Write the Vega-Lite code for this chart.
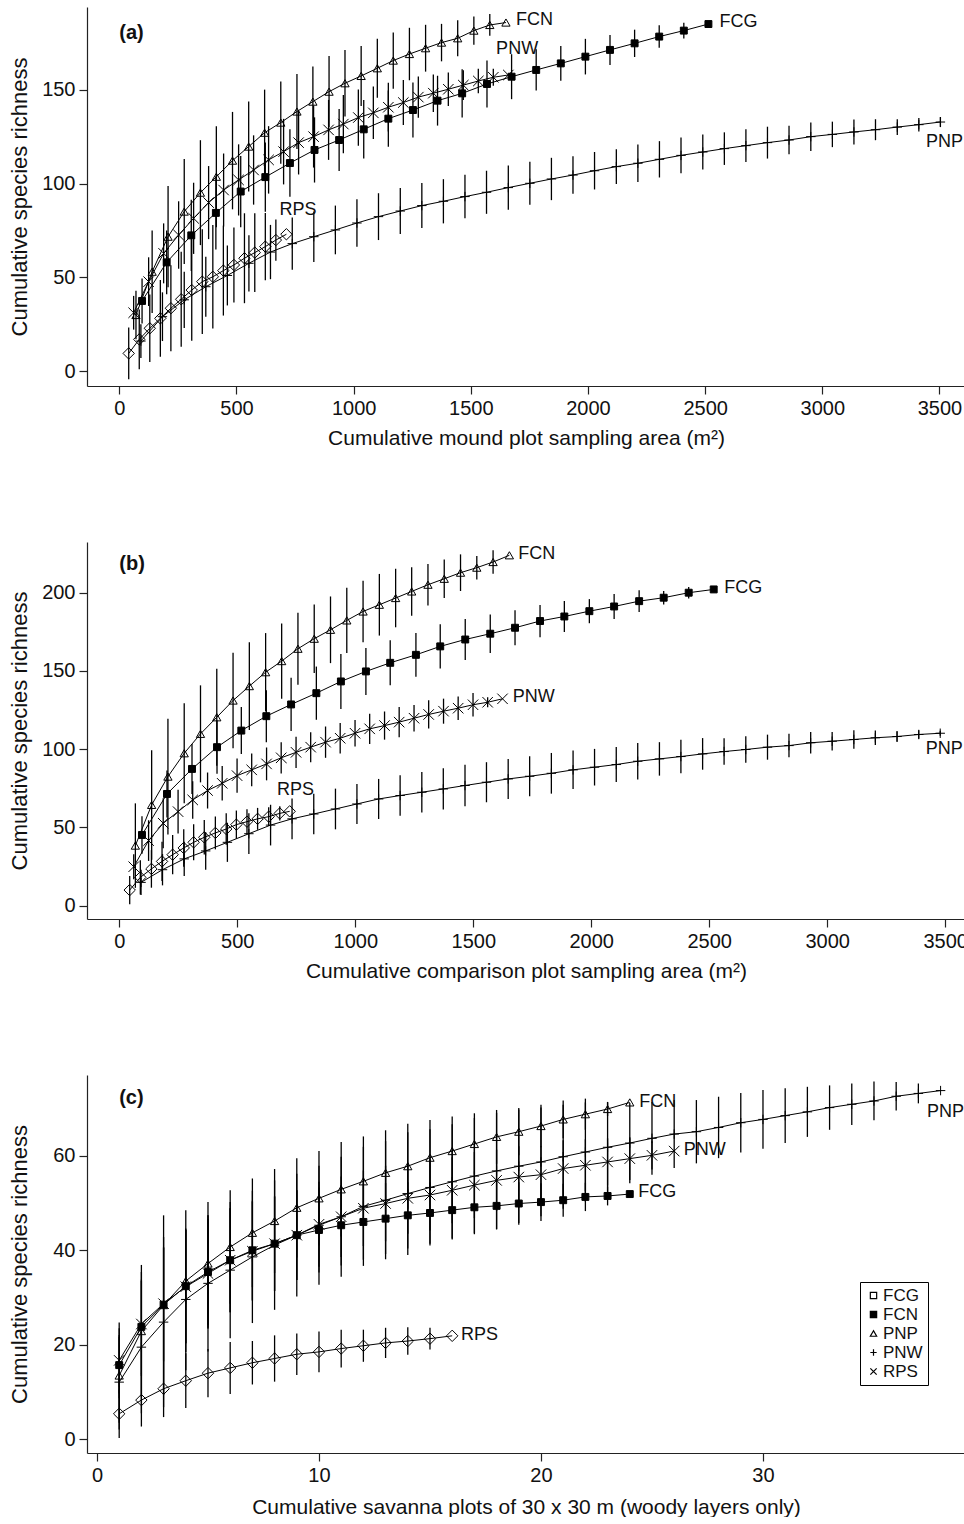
{
"$schema":"https://vega.github.io/schema/vega-lite/v6.json",
"padding":{"left":8,"top":7,"right":0,"bottom":0},
"config":{"font":"Liberation Sans","view":{"stroke":null},
"axis":{"grid":false,"domainColor":"#222","tickColor":"#222","labelColor":"#111","titleColor":"#111","labelFontSize":20,"titleFontSize":21,"titleFontWeight":"normal","tickSize":8,"labelPadding":4,"domainWidth":1.2,"tickWidth":1.2,"labelFont":"Liberation Sans","titleFont":"Liberation Sans","format":"d"},
"axisY":{"minExtent":46,"maxExtent":46,"titlePadding":10,"titleFontSize":22},
"axisX":{"titlePadding":9},
"text":{"font":"Liberation Sans","color":"#111"}},
"spacing":94,
"datasets":{
"a":[
{"s":"FCG","x":97,"y":37.4,"e":12},{"s":"FCG","x":202,"y":58,"e":17},{"s":"FCG","x":307,"y":72.4,"e":19},{"s":"FCG","x":412,"y":84.4,"e":19.5},{"s":"FCG","x":518,"y":95.8,"e":19},{"s":"FCG","x":623,"y":103.5,"e":18.5},{"s":"FCG","x":728,"y":111,"e":18},{"s":"FCG","x":833,"y":118,"e":17.4},{"s":"FCG","x":938,"y":123.3,"e":16.5},{"s":"FCG","x":1043,"y":129,"e":15.6},{"s":"FCG","x":1148,"y":134.7,"e":15},{"s":"FCG","x":1253,"y":139.3,"e":14.7},{"s":"FCG","x":1358,"y":144.3,"e":13.3},{"s":"FCG","x":1463,"y":148.2,"e":12.9},{"s":"FCG","x":1569,"y":153.2,"e":12.5},{"s":"FCG","x":1674,"y":157.1,"e":12},{"s":"FCG","x":1779,"y":160.7,"e":11},{"s":"FCG","x":1884,"y":164.2,"e":9.3},{"s":"FCG","x":1989,"y":167.8,"e":9.5},{"s":"FCG","x":2094,"y":171.4,"e":8},{"s":"FCG","x":2199,"y":174.9,"e":7.3},{"s":"FCG","x":2304,"y":178.5,"e":6},{"s":"FCG","x":2409,"y":181.7,"e":4.2},{"s":"FCG","x":2514,"y":185.2,"e":0},
{"s":"FCN","x":71,"y":29.9,"e":13},{"s":"FCN","x":140,"y":53,"e":22},{"s":"FCN","x":208,"y":71.7,"e":27},{"s":"FCN","x":277,"y":85.1,"e":28},{"s":"FCN","x":346,"y":95.2,"e":28},{"s":"FCN","x":414,"y":103.7,"e":27},{"s":"FCN","x":483,"y":112.3,"e":26},{"s":"FCN","x":552,"y":119.8,"e":24},{"s":"FCN","x":620,"y":127.2,"e":23},{"s":"FCN","x":689,"y":132.6,"e":22},{"s":"FCN","x":758,"y":138.5,"e":20},{"s":"FCN","x":826,"y":143.8,"e":18.7},{"s":"FCN","x":895,"y":149.1,"e":19},{"s":"FCN","x":963,"y":153.6,"e":17.8},{"s":"FCN","x":1032,"y":157.5,"e":16},{"s":"FCN","x":1101,"y":161.6,"e":15.7},{"s":"FCN","x":1169,"y":165.7,"e":15},{"s":"FCN","x":1238,"y":169.2,"e":14},{"s":"FCN","x":1307,"y":172.3,"e":12.5},{"s":"FCN","x":1375,"y":175.3,"e":10},{"s":"FCN","x":1444,"y":177.6,"e":9.6},{"s":"FCN","x":1513,"y":181.7,"e":7.5},{"s":"FCN","x":1581,"y":184.7,"e":5.8},{"s":"FCN","x":1650,"y":186,"e":0},
{"s":"PNW","x":61,"y":31.1,"e":9},{"s":"PNW","x":125,"y":47.7,"e":13},{"s":"PNW","x":189,"y":62.8,"e":16},{"s":"PNW","x":253,"y":72.6,"e":18},{"s":"PNW","x":317,"y":81.5,"e":19},{"s":"PNW","x":381,"y":89.9,"e":19.5},{"s":"PNW","x":445,"y":96.6,"e":19.5},{"s":"PNW","x":509,"y":102,"e":19},{"s":"PNW","x":573,"y":107.3,"e":18.5},{"s":"PNW","x":637,"y":112.7,"e":18},{"s":"PNW","x":701,"y":117.1,"e":17.5},{"s":"PNW","x":765,"y":121.9,"e":17},{"s":"PNW","x":829,"y":125.1,"e":16.5},{"s":"PNW","x":893,"y":128.7,"e":16},{"s":"PNW","x":956,"y":131.8,"e":15.5},{"s":"PNW","x":1020,"y":135.3,"e":15},{"s":"PNW","x":1084,"y":137.8,"e":14},{"s":"PNW","x":1148,"y":140.8,"e":13},{"s":"PNW","x":1212,"y":143.3,"e":12},{"s":"PNW","x":1276,"y":146.2,"e":11},{"s":"PNW","x":1340,"y":148.3,"e":10},{"s":"PNW","x":1404,"y":150.4,"e":9},{"s":"PNW","x":1468,"y":152.6,"e":8},{"s":"PNW","x":1532,"y":154.8,"e":6.5},{"s":"PNW","x":1596,"y":156.8,"e":4.5},{"s":"PNW","x":1660,"y":158,"e":0},
{"s":"RPS","x":40,"y":9.4,"e":13.8},{"s":"RPS","x":85,"y":16.9,"e":16},{"s":"RPS","x":130,"y":22.8,"e":18},{"s":"RPS","x":175,"y":28.1,"e":20.5},{"s":"RPS","x":220,"y":33.5,"e":23},{"s":"RPS","x":264,"y":38.3,"e":25.4},{"s":"RPS","x":309,"y":43.2,"e":27},{"s":"RPS","x":354,"y":47.7,"e":28},{"s":"RPS","x":399,"y":50.3,"e":27.6},{"s":"RPS","x":444,"y":53.6,"e":24},{"s":"RPS","x":489,"y":56.6,"e":20},{"s":"RPS","x":534,"y":60.2,"e":24},{"s":"RPS","x":578,"y":63.2,"e":21},{"s":"RPS","x":623,"y":66.4,"e":18},{"s":"RPS","x":668,"y":69.9,"e":11},{"s":"RPS","x":713,"y":73,"e":0},
{"s":"PNP","x":92,"y":16,"e":9},{"s":"PNP","x":184,"y":29,"e":13},{"s":"PNP","x":277,"y":38,"e":15},{"s":"PNP","x":369,"y":45,"e":16},{"s":"PNP","x":461,"y":51,"e":16},{"s":"PNP","x":553,"y":57.5,"e":15},{"s":"PNP","x":645,"y":63.5,"e":14.5},{"s":"PNP","x":738,"y":68,"e":14},{"s":"PNP","x":830,"y":71.7,"e":13.5},{"s":"PNP","x":922,"y":75.3,"e":13},{"s":"PNP","x":1014,"y":79,"e":12.7},{"s":"PNP","x":1106,"y":82.4,"e":12.5},{"s":"PNP","x":1199,"y":85.4,"e":12.3},{"s":"PNP","x":1291,"y":88.3,"e":12},{"s":"PNP","x":1383,"y":90.6,"e":11.8},{"s":"PNP","x":1475,"y":93.1,"e":11.6},{"s":"PNP","x":1567,"y":95.4,"e":11.5},{"s":"PNP","x":1660,"y":97.9,"e":11.8},{"s":"PNP","x":1752,"y":100.2,"e":11.5},{"s":"PNP","x":1844,"y":102.5,"e":11.3},{"s":"PNP","x":1936,"y":104.6,"e":10},{"s":"PNP","x":2028,"y":106.9,"e":10},{"s":"PNP","x":2121,"y":109.1,"e":9.3},{"s":"PNP","x":2213,"y":110.9,"e":10},{"s":"PNP","x":2305,"y":113,"e":9.7},{"s":"PNP","x":2397,"y":115.1,"e":9.5},{"s":"PNP","x":2490,"y":116.9,"e":9.4},{"s":"PNP","x":2582,"y":118.7,"e":8.7},{"s":"PNP","x":2674,"y":120.3,"e":8.7},{"s":"PNP","x":2766,"y":121.9,"e":8.5},{"s":"PNP","x":2858,"y":123.3,"e":7.6},{"s":"PNP","x":2951,"y":125.1,"e":7.6},{"s":"PNP","x":3043,"y":126.3,"e":6.8},{"s":"PNP","x":3135,"y":127.6,"e":6.7},{"s":"PNP","x":3227,"y":128.8,"e":5.6},{"s":"PNP","x":3320,"y":130.2,"e":4.2},{"s":"PNP","x":3412,"y":131.5,"e":3.6},{"s":"PNP","x":3504,"y":132.9,"e":2.7}
],
"b":[
{"s":"FCG","x":96,"y":45.2,"e":12},{"s":"FCG","x":202,"y":71.4,"e":15},{"s":"FCG","x":308,"y":87.4,"e":16},{"s":"FCG","x":414,"y":101.3,"e":17},{"s":"FCG","x":517,"y":111.9,"e":15},{"s":"FCG","x":623,"y":121.1,"e":16.6},{"s":"FCG","x":728,"y":128.6,"e":17},{"s":"FCG","x":835,"y":135.8,"e":17},{"s":"FCG","x":939,"y":143.3,"e":17.6},{"s":"FCG","x":1045,"y":149.7,"e":15},{"s":"FCG","x":1148,"y":155.2,"e":14.4},{"s":"FCG","x":1257,"y":160.3,"e":14},{"s":"FCG","x":1360,"y":165.7,"e":14.2},{"s":"FCG","x":1466,"y":170.1,"e":13.1},{"s":"FCG","x":1572,"y":173.8,"e":12.3},{"s":"FCG","x":1677,"y":177.6,"e":11.2},{"s":"FCG","x":1783,"y":181.9,"e":10.3},{"s":"FCG","x":1886,"y":184.8,"e":9.9},{"s":"FCG","x":1992,"y":188.2,"e":7.7},{"s":"FCG","x":2097,"y":191.2,"e":8},{"s":"FCG","x":2203,"y":194.6,"e":6.9},{"s":"FCG","x":2307,"y":196.8,"e":4.3},{"s":"FCG","x":2413,"y":200,"e":3.7},{"s":"FCG","x":2519,"y":202.1,"e":0},
{"s":"FCN","x":68,"y":38.4,"e":27},{"s":"FCN","x":137,"y":64.4,"e":35},{"s":"FCN","x":206,"y":82.5,"e":37},{"s":"FCN","x":275,"y":97.4,"e":32},{"s":"FCN","x":344,"y":109.8,"e":31},{"s":"FCN","x":413,"y":120.4,"e":31},{"s":"FCN","x":482,"y":131.1,"e":30.5},{"s":"FCN","x":551,"y":140.3,"e":28},{"s":"FCN","x":620,"y":149.2,"e":25},{"s":"FCN","x":688,"y":156.3,"e":24},{"s":"FCN","x":757,"y":164.2,"e":23},{"s":"FCN","x":826,"y":170.6,"e":21.9},{"s":"FCN","x":895,"y":176.3,"e":21.3},{"s":"FCN","x":964,"y":182.3,"e":20.8},{"s":"FCN","x":1033,"y":188,"e":19.7},{"s":"FCN","x":1102,"y":192.3,"e":19.7},{"s":"FCN","x":1171,"y":196.6,"e":18.7},{"s":"FCN","x":1239,"y":200.8,"e":15.5},{"s":"FCN","x":1308,"y":205.1,"e":13.3},{"s":"FCN","x":1377,"y":208.9,"e":12.3},{"s":"FCN","x":1446,"y":212.8,"e":11.7},{"s":"FCN","x":1515,"y":216,"e":7.5},{"s":"FCN","x":1584,"y":219.6,"e":7.5},{"s":"FCN","x":1653,"y":223.9,"e":0},
{"s":"PNW","x":61,"y":24.9,"e":8},{"s":"PNW","x":124,"y":41.6,"e":13},{"s":"PNW","x":186,"y":52.7,"e":16},{"s":"PNW","x":249,"y":60.1,"e":14},{"s":"PNW","x":311,"y":67.6,"e":12},{"s":"PNW","x":374,"y":73.6,"e":11.5},{"s":"PNW","x":436,"y":78.2,"e":11},{"s":"PNW","x":499,"y":83.1,"e":11},{"s":"PNW","x":561,"y":86.8,"e":10.5},{"s":"PNW","x":624,"y":90.6,"e":10.5},{"s":"PNW","x":686,"y":94.5,"e":10},{"s":"PNW","x":749,"y":98,"e":10},{"s":"PNW","x":811,"y":101.3,"e":9.6},{"s":"PNW","x":874,"y":104.5,"e":10},{"s":"PNW","x":936,"y":107,"e":9.8},{"s":"PNW","x":999,"y":110.2,"e":8.5},{"s":"PNW","x":1061,"y":113,"e":9.6},{"s":"PNW","x":1124,"y":115.1,"e":9},{"s":"PNW","x":1186,"y":117.3,"e":9.6},{"s":"PNW","x":1249,"y":119.8,"e":8.5},{"s":"PNW","x":1311,"y":122.2,"e":9},{"s":"PNW","x":1374,"y":124.3,"e":8},{"s":"PNW","x":1436,"y":126.2,"e":7.5},{"s":"PNW","x":1499,"y":128.4,"e":7.5},{"s":"PNW","x":1561,"y":130,"e":3.2},{"s":"PNW","x":1624,"y":132.2,"e":0},
{"s":"RPS","x":44,"y":10,"e":9},{"s":"RPS","x":89,"y":18.1,"e":11},{"s":"RPS","x":136,"y":23.5,"e":12},{"s":"RPS","x":181,"y":28.3,"e":12.5},{"s":"RPS","x":226,"y":32.6,"e":12.5},{"s":"RPS","x":273,"y":36.9,"e":12},{"s":"RPS","x":315,"y":40.5,"e":11.5},{"s":"RPS","x":360,"y":43.7,"e":11},{"s":"RPS","x":407,"y":46.5,"e":10.5},{"s":"RPS","x":453,"y":49,"e":10},{"s":"RPS","x":496,"y":51.8,"e":9},{"s":"RPS","x":541,"y":53.7,"e":8},{"s":"RPS","x":586,"y":55.5,"e":7},{"s":"RPS","x":633,"y":56.9,"e":6},{"s":"RPS","x":680,"y":59,"e":4.5},{"s":"RPS","x":722,"y":60.3,"e":0},
{"s":"PNP","x":92,"y":14.9,"e":8},{"s":"PNP","x":183,"y":23,"e":10},{"s":"PNP","x":275,"y":29.9,"e":11},{"s":"PNP","x":366,"y":35,"e":12},{"s":"PNP","x":458,"y":40.5,"e":12.5},{"s":"PNP","x":549,"y":46,"e":13},{"s":"PNP","x":641,"y":51.5,"e":13},{"s":"PNP","x":732,"y":55.5,"e":13},{"s":"PNP","x":824,"y":58.6,"e":13},{"s":"PNP","x":916,"y":61.8,"e":13},{"s":"PNP","x":1007,"y":65,"e":12.8},{"s":"PNP","x":1099,"y":68.2,"e":12.8},{"s":"PNP","x":1190,"y":70.4,"e":13},{"s":"PNP","x":1282,"y":72.5,"e":13},{"s":"PNP","x":1373,"y":74.6,"e":13.2},{"s":"PNP","x":1465,"y":76.8,"e":13.3},{"s":"PNP","x":1556,"y":78.9,"e":12.8},{"s":"PNP","x":1648,"y":81,"e":12.8},{"s":"PNP","x":1739,"y":82.7,"e":12.8},{"s":"PNP","x":1831,"y":84.6,"e":13},{"s":"PNP","x":1923,"y":86.8,"e":12.3},{"s":"PNP","x":2014,"y":88.5,"e":11.7},{"s":"PNP","x":2106,"y":90.2,"e":11.2},{"s":"PNP","x":2197,"y":92.3,"e":11.7},{"s":"PNP","x":2289,"y":93.8,"e":10.7},{"s":"PNP","x":2380,"y":95.3,"e":10.7},{"s":"PNP","x":2472,"y":97,"e":10.1},{"s":"PNP","x":2563,"y":98.5,"e":8.5},{"s":"PNP","x":2655,"y":99.8,"e":8.5},{"s":"PNP","x":2747,"y":101.3,"e":8},{"s":"PNP","x":2838,"y":102.3,"e":7.5},{"s":"PNP","x":2930,"y":104.1,"e":6.9},{"s":"PNP","x":3021,"y":105.1,"e":5.9},{"s":"PNP","x":3113,"y":106.2,"e":5.9},{"s":"PNP","x":3204,"y":107.3,"e":4.6},{"s":"PNP","x":3296,"y":108.1,"e":3.5},{"s":"PNP","x":3388,"y":109.4,"e":2.7},{"s":"PNP","x":3479,"y":110.2,"e":1.6}
],
"c":[
{"s":"FCG","x":1,"y":15.7,"e":6},{"s":"FCG","x":2,"y":23.8,"e":10},{"s":"FCG","x":3,"y":28.5,"e":12},{"s":"FCG","x":4,"y":32.4,"e":12},{"s":"FCG","x":5,"y":35.4,"e":12},{"s":"FCG","x":6,"y":37.9,"e":11},{"s":"FCG","x":7,"y":40,"e":10.5},{"s":"FCG","x":8,"y":41.4,"e":10},{"s":"FCG","x":9,"y":43.2,"e":9.5},{"s":"FCG","x":10,"y":44.3,"e":9},{"s":"FCG","x":11,"y":45.3,"e":8.5},{"s":"FCG","x":12,"y":46,"e":8},{"s":"FCG","x":13,"y":46.7,"e":7.5},{"s":"FCG","x":14,"y":47.4,"e":7},{"s":"FCG","x":15,"y":47.9,"e":6.5},{"s":"FCG","x":16,"y":48.5,"e":6},{"s":"FCG","x":17,"y":49.1,"e":5.5},{"s":"FCG","x":18,"y":49.4,"e":5},{"s":"FCG","x":19,"y":49.9,"e":4.5},{"s":"FCG","x":20,"y":50.2,"e":4},{"s":"FCG","x":21,"y":50.6,"e":3.5},{"s":"FCG","x":22,"y":51.3,"e":3},{"s":"FCG","x":23,"y":51.5,"e":2},{"s":"FCG","x":24,"y":51.9,"e":0},
{"s":"FCN","x":1,"y":13.5,"e":10},{"s":"FCN","x":2,"y":22.9,"e":14},{"s":"FCN","x":3,"y":28.4,"e":19},{"s":"FCN","x":4,"y":33.5,"e":15},{"s":"FCN","x":5,"y":37.2,"e":13},{"s":"FCN","x":6,"y":40.7,"e":12},{"s":"FCN","x":7,"y":43.7,"e":11.5},{"s":"FCN","x":8,"y":46.2,"e":11},{"s":"FCN","x":9,"y":49,"e":10.5},{"s":"FCN","x":10,"y":51,"e":10},{"s":"FCN","x":11,"y":52.9,"e":10},{"s":"FCN","x":12,"y":54.6,"e":9.5},{"s":"FCN","x":13,"y":56.4,"e":9},{"s":"FCN","x":14,"y":57.8,"e":9},{"s":"FCN","x":15,"y":59.6,"e":8},{"s":"FCN","x":16,"y":61,"e":7.3},{"s":"FCN","x":17,"y":62.5,"e":6.5},{"s":"FCN","x":18,"y":64,"e":5.7},{"s":"FCN","x":19,"y":65.1,"e":5},{"s":"FCN","x":20,"y":66.3,"e":4.5},{"s":"FCN","x":21,"y":67.7,"e":4},{"s":"FCN","x":22,"y":68.8,"e":3.3},{"s":"FCN","x":23,"y":69.9,"e":1.5},{"s":"FCN","x":24,"y":71.3,"e":0},
{"s":"PNW","x":1,"y":16.7,"e":8},{"s":"PNW","x":2,"y":24.4,"e":11},{"s":"PNW","x":3,"y":28.7,"e":12},{"s":"PNW","x":4,"y":32.3,"e":12},{"s":"PNW","x":5,"y":35.1,"e":11.5},{"s":"PNW","x":6,"y":37.9,"e":11},{"s":"PNW","x":7,"y":39.8,"e":10.5},{"s":"PNW","x":8,"y":41.4,"e":10},{"s":"PNW","x":9,"y":43.2,"e":9.5},{"s":"PNW","x":10,"y":45.5,"e":9},{"s":"PNW","x":11,"y":47.1,"e":8.5},{"s":"PNW","x":12,"y":48.9,"e":8},{"s":"PNW","x":13,"y":49.9,"e":8},{"s":"PNW","x":14,"y":51,"e":7.5},{"s":"PNW","x":15,"y":51.7,"e":7.5},{"s":"PNW","x":16,"y":52.7,"e":7},{"s":"PNW","x":17,"y":53.8,"e":7},{"s":"PNW","x":18,"y":54.8,"e":6.5},{"s":"PNW","x":19,"y":55.5,"e":6.5},{"s":"PNW","x":20,"y":56,"e":6},{"s":"PNW","x":21,"y":57.3,"e":6},{"s":"PNW","x":22,"y":58,"e":5.5},{"s":"PNW","x":23,"y":58.7,"e":5},{"s":"PNW","x":24,"y":59.4,"e":4.5},{"s":"PNW","x":25,"y":60.1,"e":3},{"s":"PNW","x":26,"y":61,"e":0},
{"s":"RPS","x":1,"y":5.4,"e":5.1},{"s":"RPS","x":2,"y":8.3,"e":5.6},{"s":"RPS","x":3,"y":10.7,"e":6},{"s":"RPS","x":4,"y":12.4,"e":5.8},{"s":"RPS","x":5,"y":14,"e":5.1},{"s":"RPS","x":6,"y":15.1,"e":5.5},{"s":"RPS","x":7,"y":16.2,"e":4.6},{"s":"RPS","x":8,"y":17.1,"e":4.9},{"s":"RPS","x":9,"y":18,"e":4.4},{"s":"RPS","x":10,"y":18.5,"e":4.3},{"s":"RPS","x":11,"y":19.2,"e":4},{"s":"RPS","x":12,"y":19.8,"e":3.4},{"s":"RPS","x":13,"y":20.4,"e":3.2},{"s":"RPS","x":14,"y":20.8,"e":2.9},{"s":"RPS","x":15,"y":21.3,"e":2.3},{"s":"RPS","x":16,"y":21.9,"e":0},
{"s":"PNP","x":1,"y":12.1,"e":10},{"s":"PNP","x":2,"y":19.5,"e":14},{"s":"PNP","x":3,"y":24.8,"e":18},{"s":"PNP","x":4,"y":29.6,"e":15},{"s":"PNP","x":5,"y":33,"e":14.4},{"s":"PNP","x":6,"y":35.8,"e":14.4},{"s":"PNP","x":7,"y":38.6,"e":14},{"s":"PNP","x":8,"y":41.1,"e":13.7},{"s":"PNP","x":9,"y":43.2,"e":13},{"s":"PNP","x":10,"y":45.3,"e":12.6},{"s":"PNP","x":11,"y":47.1,"e":12.7},{"s":"PNP","x":12,"y":49.3,"e":12.6},{"s":"PNP","x":13,"y":50.6,"e":12.5},{"s":"PNP","x":14,"y":52,"e":13},{"s":"PNP","x":15,"y":53.3,"e":12.3},{"s":"PNP","x":16,"y":54.5,"e":12.2},{"s":"PNP","x":17,"y":55.7,"e":12.3},{"s":"PNP","x":18,"y":56.8,"e":12.3},{"s":"PNP","x":19,"y":57.8,"e":12},{"s":"PNP","x":20,"y":58.7,"e":11.5},{"s":"PNP","x":21,"y":59.8,"e":11},{"s":"PNP","x":22,"y":60.8,"e":10.5},{"s":"PNP","x":23,"y":61.8,"e":9.5},{"s":"PNP","x":24,"y":62.7,"e":8.5},{"s":"PNP","x":25,"y":63.7,"e":7.7},{"s":"PNP","x":26,"y":64.6,"e":7.2},{"s":"PNP","x":27,"y":65.1,"e":6.7},{"s":"PNP","x":28,"y":66,"e":6.5},{"s":"PNP","x":29,"y":67,"e":6.3},{"s":"PNP","x":30,"y":67.7,"e":6.2},{"s":"PNP","x":31,"y":68.5,"e":5.8},{"s":"PNP","x":32,"y":69.3,"e":5.3},{"s":"PNP","x":33,"y":70.2,"e":4.7},{"s":"PNP","x":34,"y":70.9,"e":4.4},{"s":"PNP","x":35,"y":71.6,"e":4.1},{"s":"PNP","x":36,"y":72.6,"e":3},{"s":"PNP","x":37,"y":73.2,"e":2.1},{"s":"PNP","x":38,"y":73.8,"e":0}
],
"lab":[
{"p":"a","t":"FCN","x":1693,"y":187.4},{"p":"a","t":"PNW","x":1608,"y":171.9},{"p":"a","t":"FCG","x":2561,"y":186.1},{"p":"a","t":"PNP","x":3443,"y":122.4},{"p":"a","t":"RPS","x":683,"y":86},
{"p":"b","t":"FCN","x":1691,"y":224.5},{"p":"b","t":"FCG","x":2564,"y":203.2},{"p":"b","t":"PNW","x":1667,"y":133.2},{"p":"b","t":"PNP","x":3418,"y":100.2},{"p":"b","t":"RPS","x":668,"y":74},
{"p":"c","t":"FCN","x":24.43,"y":71.3},{"p":"c","t":"PNW","x":26.43,"y":61.2},{"p":"c","t":"FCG","x":24.38,"y":52.4},{"p":"c","t":"PNP","x":37.39,"y":69.3},{"p":"c","t":"RPS","x":16.4,"y":22}
],
"tag":[{"p":"a","t":"(a)","x":0,"y":180.5},{"p":"b","t":"(b)","x":0,"y":218.5},{"p":"c","t":"(c)","x":1,"y":72.3}]
},
"vconcat":[
{"width":878,"height":379,
"encoding":{
"x":{"field":"x","type":"quantitative","scale":{"domain":[-138,3609],"nice":false,"zero":false},"axis":{"values":[0,500,1000,1500,2000,2500,3000,3500],"title":"Cumulative mound plot sampling area (m²)"}},
"y":{"field":"y","type":"quantitative","scale":{"domain":[-8,194.3],"nice":false,"zero":false},"axis":{"values":[0,50,100,150],"title":"Cumulative species richness"}}},
"layer":[
{"data":{"name":"a"},"mark":{"type":"errorbar","color":"black","thickness":1.3,"ticks":false},"encoding":{"yError":{"field":"e"}}},
{"data":{"name":"a"},"mark":{"type":"line","color":"black","strokeWidth":1},"encoding":{"detail":{"field":"s"}}},
{"data":{"name":"a"},"mark":{"type":"point","filled":true,"stroke":"black","strokeWidth":1,"opacity":1},"encoding":{
"shape":{"field":"s","type":"nominal","scale":{"domain":["FCG","FCN","PNP","PNW","RPS"],"range":["square","triangle-up","M-1,0L1,0M0,-1L0,1","M-1,-1L1,1M-1,1L1,-1","diamond"]},"legend":null},
"size":{"field":"s","type":"ordinal","scale":{"domain":["FCG","FCN","PNP","PNW","RPS"],"range":[48,130,70,55,110]},"legend":null},
"fill":{"condition":{"test":"datum.s === 'FCG'","value":"black"},"value":"transparent"}}},
{"data":{"name":"lab"},"transform":[{"filter":"datum.p === 'a'"}],"mark":{"type":"text","align":"left","baseline":"middle","fontSize":18},"encoding":{"text":{"field":"t"}}},
{"data":{"name":"tag"},"transform":[{"filter":"datum.p === 'a'"}],"mark":{"type":"text","align":"left","baseline":"middle","fontSize":20,"fontWeight":"bold"},"encoding":{"text":{"field":"t"}}}
]},
{"width":878,"height":377,
"encoding":{
"x":{"field":"x","type":"quantitative","scale":{"domain":[-137,3584],"nice":false,"zero":false},"axis":{"values":[0,500,1000,1500,2000,2500,3000,3500],"title":"Cumulative comparison plot sampling area (m²)"}},
"y":{"field":"y","type":"quantitative","scale":{"domain":[-8.5,232.4],"nice":false,"zero":false},"axis":{"values":[0,50,100,150,200],"title":"Cumulative species richness"}}},
"layer":[
{"data":{"name":"b"},"mark":{"type":"errorbar","color":"black","thickness":1.3,"ticks":false},"encoding":{"yError":{"field":"e"}}},
{"data":{"name":"b"},"mark":{"type":"line","color":"black","strokeWidth":1},"encoding":{"detail":{"field":"s"}}},
{"data":{"name":"b"},"mark":{"type":"point","filled":true,"stroke":"black","strokeWidth":1,"opacity":1},"encoding":{
"shape":{"field":"s","type":"nominal","scale":{"domain":["FCG","FCN","PNP","PNW","RPS"],"range":["square","triangle-up","M-1,0L1,0M0,-1L0,1","M-1,-1L1,1M-1,1L1,-1","diamond"]},"legend":null},
"size":{"field":"s","type":"ordinal","scale":{"domain":["FCG","FCN","PNP","PNW","RPS"],"range":[48,130,70,55,110]},"legend":null},
"fill":{"condition":{"test":"datum.s === 'FCG'","value":"black"},"value":"transparent"}}},
{"data":{"name":"lab"},"transform":[{"filter":"datum.p === 'b'"}],"mark":{"type":"text","align":"left","baseline":"middle","fontSize":18},"encoding":{"text":{"field":"t"}}},
{"data":{"name":"tag"},"transform":[{"filter":"datum.p === 'b'"}],"mark":{"type":"text","align":"left","baseline":"middle","fontSize":20,"fontWeight":"bold"},"encoding":{"text":{"field":"t"}}}
]},
{"width":878,"height":378,
"encoding":{
"x":{"field":"x","type":"quantitative","scale":{"domain":[-0.45,39.1],"nice":false,"zero":false},"axis":{"values":[0,10,20,30],"title":"Cumulative savanna plots of 30 x 30 m (woody layers only)","titlePadding":11}},
"y":{"field":"y","type":"quantitative","scale":{"domain":[-2.9,77.1],"nice":false,"zero":false},"axis":{"values":[0,20,40,60],"title":"Cumulative species richness"}}},
"layer":[
{"data":{"name":"c"},"mark":{"type":"errorbar","color":"black","thickness":1.3,"ticks":false},"encoding":{"yError":{"field":"e"}}},
{"data":{"name":"c"},"mark":{"type":"line","color":"black","strokeWidth":1},"encoding":{"detail":{"field":"s"}}},
{"data":{"name":"c"},"mark":{"type":"point","filled":true,"stroke":"black","strokeWidth":1,"opacity":1},"encoding":{
"shape":{"field":"s","type":"nominal","scale":{"domain":["FCG","FCN","PNP","PNW","RPS"],"range":["square","triangle-up","M-1,0L1,0M0,-1L0,1","M-1,-1L1,1M-1,1L1,-1","diamond"]},"legend":null},
"size":{"field":"s","type":"ordinal","scale":{"domain":["FCG","FCN","PNP","PNW","RPS"],"range":[48,130,70,55,110]},"legend":null},
"fill":{"condition":{"test":"datum.s === 'FCG'","value":"black"},"value":"transparent"}}},
{"data":{"name":"c"},"mark":{"type":"point","opacity":0},"encoding":{
"shape":{"field":"s","type":"nominal","scale":{"domain":["FCG","FCN","PNP","PNW","RPS"],"range":["square","M-1,-1H1V1H-1Z M-1,-0.7H1 M-1,-0.35H1 M-1,0H1 M-1,0.35H1 M-1,0.7H1","triangle-up","M-1,0L1,0M0,-1L0,1","M-1,-1L1,1M-1,1L1,-1"]},
"legend":{"title":null,"orient":"none","legendX":773,"legendY":207,"strokeColor":"black","padding":5,"rowPadding":1,"labelFontSize":17,"labelFont":"Liberation Sans","labelColor":"#111","labelOffset":1,"symbolSize":40,"symbolStrokeWidth":1.2,"symbolStrokeColor":"black"}}}},
{"data":{"name":"lab"},"transform":[{"filter":"datum.p === 'c'"}],"mark":{"type":"text","align":"left","baseline":"middle","fontSize":18},"encoding":{"text":{"field":"t"}}},
{"data":{"name":"tag"},"transform":[{"filter":"datum.p === 'c'"}],"mark":{"type":"text","align":"left","baseline":"middle","fontSize":20,"fontWeight":"bold"},"encoding":{"text":{"field":"t"}}}
],
"resolve":{"scale":{"shape":"independent","size":"independent"}}}
]
}
